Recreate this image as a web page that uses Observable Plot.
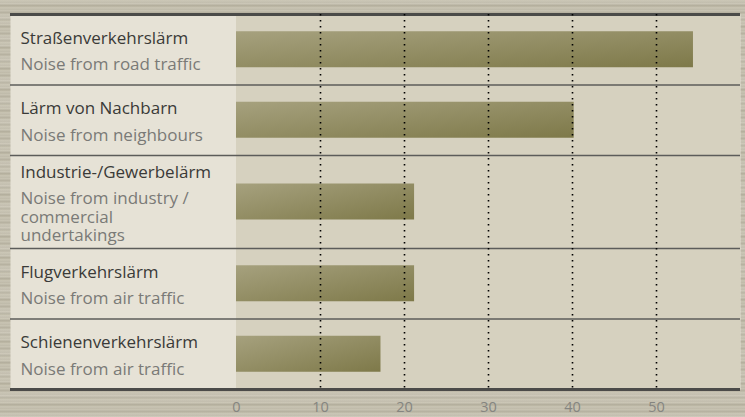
<!DOCTYPE html>
<html>
<head>
<meta charset="utf-8">
<script src="https://cdn.jsdelivr.net/npm/d3@7"></script>
<script src="https://cdn.jsdelivr.net/npm/@observablehq/plot@0.6"></script>
<style>
  html, body { margin: 0; padding: 0; }
  body {
    width: 745px; height: 417px; overflow: hidden;
    background:
      repeating-linear-gradient(180deg,
        rgba(255,255,255,0.00) 0px, rgba(255,255,255,0.12) 1px, rgba(0,0,0,0.06) 2px,
        rgba(255,255,255,0.08) 4px, rgba(0,0,0,0.08) 5px, rgba(255,255,255,0.00) 7px),
      repeating-linear-gradient(180deg,
        #c6c1af 0px, #cdc8b7 3px, #bdb8a5 6px, #c9c4b2 9px, #c1bcaa 13px, #cec9b9 17px, #c3beac 21px);
  }
  svg { display: block; }
</style>
</head>
<body>
<div id="chart"></div>
<script>
// ---- data ----
const germanLabels = [
  "Straßenverkehrslärm",
  "Lärm von Nachbarn",
  "Industrie-/Gewerbelärm",
  "Flugverkehrslärm",
  "Schienenverkehrslärm"
];
const englishLabels = [
  "Noise from road traffic",
  "Noise from neighbours",
  "Noise from industry /\ncommercial\nundertakings",
  "Noise from air traffic",
  "Noise from air traffic"
];
const values = [54.4, 40.2, 21.2, 21.2, 17.2];
const xTicks = [0, 10, 20, 30, 40, 50];
const gridTicks = [10, 20, 30, 40, 50];
const xDomain = [0, 60];

// ---- layout derived from the label line counts ----
let acc = 0;
const rows = germanLabels.map((g, i) => {
  const nEng = englishLabels[i].split("\n").length;
  const w = 1 + (nEng - 1) * 0.16;
  const r = {german: g, english: englishLabels[i], value: values[i], nEng, top: acc, bottom: acc + w, mid: acc + w / 2};
  acc += w;
  return r;
});
const total = acc;
const panelTop = 14, panelBottom = 389;
const ppu = (panelBottom - panelTop) / total; // pixels per row unit
const barHalf = 18 / ppu;
const fsLabel = 17, fsTick = 14.5;
const boundaries = rows.slice(1).map(r => r.top);

rows.forEach(r => {
  r.gy = r.mid + (-6 - (r.nEng - 1) * 9.25) / ppu;   // German baseline
  r.ey = r.gy + 25.5 / ppu;                          // first English baseline
});

const chart = Plot.plot({
  width: 745,
  height: 417,
  marginLeft: 10,
  marginRight: 5,
  marginTop: panelTop,
  marginBottom: 417 - panelBottom,
  style: {fontFamily: "'Open Sans', sans-serif", background: "transparent", overflow: "visible"},
  x: {domain: xDomain, range: [236, 740], axis: null, label: null},
  y: {domain: [0, total], range: [panelTop, panelBottom], axis: null},
  marks: [
    Plot.frame({fill: "#e6e2d6", stroke: null}),
    Plot.rect([xDomain], {x1: d => d[0], x2: d => d[1], y1: 0, y2: total, fill: "#d6d1bf"}),
    Plot.rect(rows, {x1: 0, x2: "value", y1: d => d.mid - barHalf, y2: d => d.mid + barHalf, fill: "url(#barGrad)"}),
    Plot.ruleY(boundaries, {stroke: "#5c5c5a", strokeWidth: 1.6}),
    Plot.ruleY([0, total], {stroke: "#4b4b49", strokeWidth: 3}),
    Plot.ruleX(gridTicks, {stroke: "#000", strokeWidth: 1.6, strokeDasharray: "1.6,4.4"}),
    Plot.text(rows, {
      frameAnchor: "left", dx: 10, y: "gy", text: "german",
      textAnchor: "start", lineAnchor: "top", dy: -0.71 * fsLabel,
      fontSize: fsLabel, fill: "#3a3a38"
    }),
    Plot.text(rows, {
      frameAnchor: "left", dx: 10, y: "ey", text: "english",
      textAnchor: "start", lineAnchor: "top", dy: -0.71 * fsLabel,
      lineHeight: 18.5 / fsLabel,
      fontSize: fsLabel, fill: "#7a7a77"
    }),
    Plot.axisX({ticks: xTicks, tickSize: 0, tickPadding: 12, fontSize: fsTick, fill: "#858580", label: null, tickFormat: d => String(d)})
  ]
});

d3.select(chart).insert("defs", ":first-child").html(
  `<linearGradient id="barGrad" x1="0" y1="0" x2="1" y2="1">
     <stop offset="0" stop-color="#a6a17e"/>
     <stop offset="1" stop-color="#7e7949"/>
   </linearGradient>`
);

document.getElementById("chart").appendChild(chart);
</script>
</body>
</html>
